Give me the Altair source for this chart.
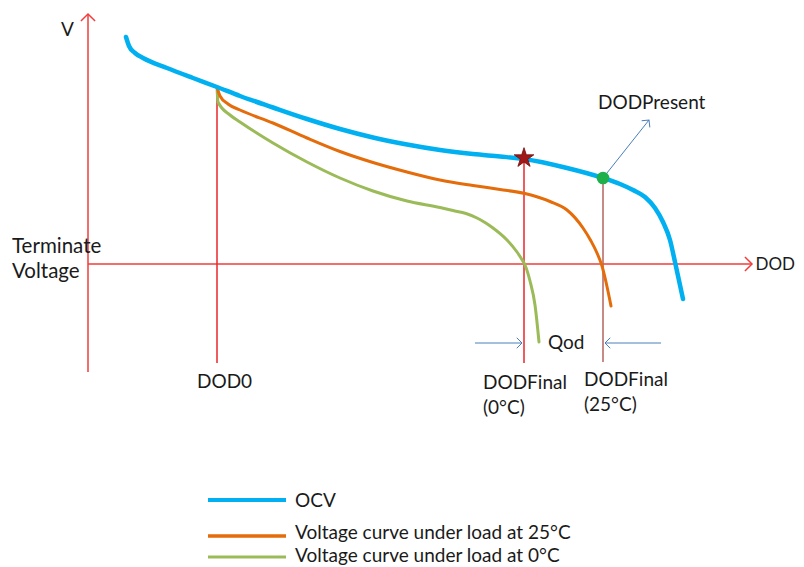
import altair as alt
import pandas as pd

# ---- data (diagram units: DOD to the right, V downward-inverted) ----
ocv_x = [126, 129, 135, 143, 167, 193, 217, 240, 273, 307, 340, 373, 407, 440, 473, 500, 524, 567, 603, 620, 633, 645, 655, 663, 670, 675, 683]
ocv_y = [37, 46, 53, 58, 68, 78, 87, 96, 107.5, 119, 129, 137.5, 144.5, 150, 154, 156.5, 159, 168, 178, 184, 190, 197, 208, 222, 240, 262, 299]

c25_x = [217, 220, 228, 240, 273, 307, 340, 373, 407, 440, 473, 500, 525, 550, 567, 583, 591, 597, 602, 606, 611]
c25_y = [87, 96, 104, 110, 123, 138, 151.5, 162.5, 172, 180, 185.5, 189.5, 193.5, 201.5, 210, 228, 241, 253, 266, 282, 306]

c0_x = [217, 218, 230, 240, 273, 307, 340, 373, 407, 440, 453, 466, 477, 485, 493, 507, 517, 521, 525, 530, 535, 539]
c0_y = [87, 102, 115, 122, 143, 162, 178, 191, 201, 207.5, 210.5, 213.5, 218, 222.5, 228, 240, 252, 258, 265, 281, 305, 342]

# axes of the diagram
v_axis = {"x": 88, "y_bottom": 372, "y_top": 14}
dod_axis = {"y": 264, "x_left": 88, "x_right": 752}

# vertical markers: DOD0, DODFinal(0°C), DODFinal(25°C)
marker_x = [217, 524, 603]
marker_top = [87, 158, 178]
marker_bottom = [363, 363, 362]
marker_color = ["#e8262a", "#e8262a", "#b5655f"]

# labels
label_text = ["V", "DOD0", "DODFinal", "(0°C)", "DODFinal", "(25°C)", "Qod", "DODPresent"]
label_x = [61, 197, 483, 483, 584, 584, 548, 598]
label_y = [30, 382, 383, 408, 380, 405, 343, 103]

side_text = ["Terminate", "Voltage"]
side_x = [12, 12]
side_y = [247, 272]

dod_text = ["DOD"]
dod_x = [795]
dod_y = [265]

legend_names = ["OCV", "Voltage curve under load at 25°C", "Voltage curve under load at 0°C"]
legend_colors = ["#00b0f0", "#e46c0a", "#9bbb59"]
legend_widths = [4, 3.5, 3]
legend_line_y = [500, 536, 557]
legend_text_y = [501, 533, 556]

XS = alt.Scale(domain=[8, 796], nice=False, zero=False)
YS = alt.Scale(domain=[8, 567], nice=False, zero=False, reverse=True)
FONT = "Lato"
TXT = "#1a1a1a"

def X(f="x"):
    return alt.X(f"{f}:Q", scale=XS, axis=None)

def Y(f="y"):
    return alt.Y(f"{f}:Q", scale=YS, axis=None)

layers = []

# red axes
axes_df = pd.DataFrame({
    "x": [v_axis["x"], dod_axis["x_left"]],
    "x2": [v_axis["x"], dod_axis["x_right"]],
    "y": [v_axis["y_bottom"], dod_axis["y"]],
    "y2": [v_axis["y_top"] + 1, dod_axis["y"]],
})
layers.append(alt.Chart(axes_df).mark_rule(color="#f03c3c", strokeWidth=1.5).encode(
    x=X(), x2="x2:Q", y=Y(), y2="y2:Q"))

arrow_shape = "M-1,-1L0,0L-1,1"
heads_df = pd.DataFrame({
    "x": [v_axis["x"], dod_axis["x_right"]],
    "y": [v_axis["y_top"], dod_axis["y"]],
    "a": [270, 0],
})
layers.append(alt.Chart(heads_df).mark_point(shape=arrow_shape, filled=False, color="#f03c3c",
                                             strokeWidth=1.5, size=200, opacity=1).encode(
    x=X(), y=Y(), angle=alt.Angle("a:Q", scale=None)))

# vertical marker lines
mk_df = pd.DataFrame({"x": marker_x, "y": marker_top, "y2": marker_bottom, "c": marker_color})
layers.append(alt.Chart(mk_df).mark_rule(strokeWidth=1.5).encode(
    x=X(), y=Y(), y2="y2:Q", color=alt.Color("c:N", scale=None)))

# Qod arrows and DODPresent arrow
qarr_df = pd.DataFrame({
    "x": [475, 661, 603],
    "x2": [522, 605, 649],
    "y": [343, 343, 178],
    "y2": [343, 343, 120],
})
layers.append(alt.Chart(qarr_df).mark_rule(color="#4a7ebb", strokeWidth=1).encode(
    x=X(), x2="x2:Q", y=Y(), y2="y2:Q"))
qhead_df = pd.DataFrame({"x": [522, 605, 649], "y": [343, 343, 120], "a": [0, 180, 308.4]})
layers.append(alt.Chart(qhead_df).mark_point(shape=arrow_shape, filled=False, color="#4a7ebb",
                                             strokeWidth=1, size=110, opacity=1).encode(
    x=X(), y=Y(), angle=alt.Angle("a:Q", scale=None)))

# curves
for xs, ys, col, w in [(c0_x, c0_y, legend_colors[2], 3),
                       (c25_x, c25_y, legend_colors[1], 3),
                       (ocv_x, ocv_y, legend_colors[0], 4.5)]:
    df = pd.DataFrame({"x": xs, "y": ys, "i": range(len(xs))})
    layers.append(alt.Chart(df).mark_line(color=col, strokeWidth=w, interpolate="monotone",
                                          strokeCap="round").encode(
        x=X(), y=Y(), order="i:Q"))

# star and dot
star = ("M0,-1L0.2245,-0.309L0.951,-0.309L0.363,0.118L0.588,0.809L0,0.382"
        "L-0.588,0.809L-0.363,0.118L-0.951,-0.309L-0.2245,-0.309Z")
layers.append(alt.Chart(pd.DataFrame({"x": [524], "y": [158]})).mark_point(
    shape=star, filled=True, color="#a01818", stroke="#6e0f0f", strokeWidth=0.8,
    size=430, opacity=1).encode(x=X(), y=Y()))
layers.append(alt.Chart(pd.DataFrame({"x": [603], "y": [178]})).mark_point(
    shape="circle", filled=True, color="#1db04b", size=160, opacity=1).encode(x=X(), y=Y()))

# labels
lab_df = pd.DataFrame({"x": label_x, "y": label_y, "t": label_text})
layers.append(alt.Chart(lab_df).mark_text(align="left", baseline="middle", font=FONT,
                                          fontSize=19, color=TXT).encode(
    x=X(), y=Y(), text="t:N"))
side_df = pd.DataFrame({"x": side_x, "y": side_y, "t": side_text})
layers.append(alt.Chart(side_df).mark_text(align="left", baseline="middle", font=FONT,
                                           fontSize=20.5, color=TXT).encode(
    x=X(), y=Y(), text="t:N"))
dod_df = pd.DataFrame({"x": dod_x, "y": dod_y, "t": dod_text})
layers.append(alt.Chart(dod_df).mark_text(align="right", baseline="middle", font=FONT,
                                          fontSize=17, color=TXT).encode(
    x=X(), y=Y(), text="t:N"))

# legend
leg_df = pd.DataFrame({
    "x": [208] * 3, "x2": [286] * 3, "y": legend_line_y,
    "c": legend_colors, "w": legend_widths,
    "tx": [295] * 3, "ty": legend_text_y, "t": legend_names,
})
layers.append(alt.Chart(leg_df).mark_rule().encode(
    x=X(), x2="x2:Q", y=Y(), color=alt.Color("c:N", scale=None),
    strokeWidth=alt.StrokeWidth("w:Q", scale=None)))
layers.append(alt.Chart(leg_df).mark_text(align="left", baseline="middle", font=FONT,
                                          fontSize=19, color=TXT).encode(
    x=X("tx"), y=Y("ty"), text="t:N"))

chart = alt.layer(*layers).properties(
    width=788, height=559, padding=0, autosize=alt.AutoSizeParams(type="none"),
    background="white",
).configure_view(stroke=None)

chart.save("out.html", embed_options={"renderer": "svg", "actions": False})
